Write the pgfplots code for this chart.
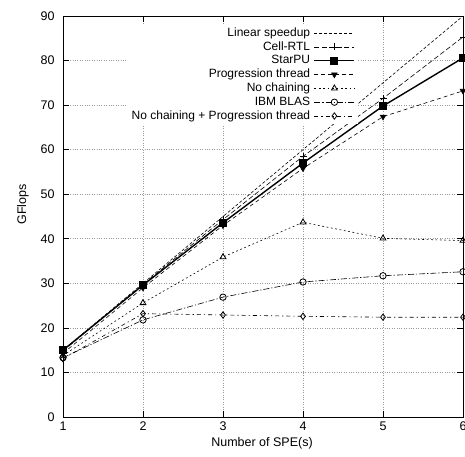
\documentclass[border=0pt]{standalone}
\usepackage{fontspec}
\setmainfont{Liberation Sans}
\usepackage{pgfplots}
\pgfplotsset{compat=1.18}

\begin{document}
\begin{tikzpicture}
\begin{axis}[
    at={(0pt,0pt)}, anchor=south west,
    scale only axis,
    width=400pt, height=401pt,
    xmin=1, xmax=6, ymin=0, ymax=90,
    xtick={1,2,3,4,5,6},
    ytick={0,10,...,90},
    tick align=inside,
    major tick length=6pt,
    axis line style={line width=0.9pt},
    tick style={line width=0.7pt, black},
    grid=major,
    major grid style={gray!80, line width=0.6pt, dash pattern=on 0.8pt off 1.6pt},
    /pgf/number format/assume math mode=true,
    tick label style={font=\fontsize{12.5}{14}\selectfont},
    yticklabel style={xshift=-5pt},
    xticklabel style={yshift=-1pt},
    xlabel={Number of SPE(s)},
    ylabel={GFlops},
    label style={font=\fontsize{12.5}{14}\selectfont},
    xlabel style={at={(axis description cs:0.4975,-0.066)}, anchor=center},
    ylabel style={at={(axis description cs:-0.1,0.53)}, anchor=center},
    clip=false,
    legend cell align=right,
    legend plot pos=right,
    legend style={at={(0.738,0.978)}, anchor=north east, draw=none, fill=white,
        font=\fontsize{12}{12}\selectfont, row sep=1.5pt, column sep=3pt,
        nodes={inner sep=0.6pt, text height=8.6pt, text depth=2.5pt}},
    legend image code/.code={\draw[mark repeat=2, mark phase=2] plot coordinates {(0cm,0cm)(0.7cm,0cm)(1.4cm,0cm)};},
]
\addplot[black, line width=0.6pt, dash pattern=on 3pt off 2pt] coordinates {
    (1,15)(2,30)(3,45)(4,60)(5,75)(6,90)};
\addlegendentry{Linear speedup}
\addplot[black, line width=0.6pt, dash pattern=on 5pt off 2.5pt, mark=+, mark size=3.5pt, mark options={solid, line width=0.7pt}] coordinates {
    (1,14.8)(2,29.8)(3,44.3)(4,58.5)(5,71.5)(6,85.3)};
\addlegendentry{Cell-RTL}
\addplot[black, line width=1.4pt, mark=square*, mark size=3.4pt, mark options={solid}] coordinates {
    (1,15)(2,29.6)(3,43.6)(4,57)(5,69.8)(6,80.6)};
\addlegendentry{StarPU}
\addplot[black, line width=0.6pt, dash pattern=on 4pt off 3pt, mark=triangle*, mark size=3.2pt, mark options={solid, rotate=180}] coordinates {
    (1,14.3)(2,29)(3,43)(4,55.8)(5,67.4)(6,73.2)};
\addlegendentry{Progression thread}
\addplot[black, line width=0.6pt, dash pattern=on 1.8pt off 2.6pt, mark=triangle, mark size=3.4pt, mark options={solid, line width=0.8pt}] coordinates {
    (1,13.8)(2,25.6)(3,35.9)(4,43.7)(5,40.1)(6,39.6)};
\addlegendentry{No chaining}
\addplot[black, line width=0.6pt, dash pattern=on 6pt off 2pt on 1.2pt off 2pt, mark=o, mark size=3.2pt, mark options={solid, line width=0.8pt}] coordinates {
    (1,13.3)(2,21.8)(3,26.9)(4,30.3)(5,31.7)(6,32.6)};
\addlegendentry{IBM BLAS}
\addplot[black, line width=0.6pt, dash pattern=on 4pt off 3pt on 1.2pt off 3pt, mark=diamond, mark size=3.2pt, mark options={solid, line width=0.8pt}] coordinates {
    (1,13.1)(2,23.2)(3,22.9)(4,22.6)(5,22.4)(6,22.4)};
\addlegendentry{No chaining + Progression thread}
\end{axis}
\pgfresetboundingbox
\path[use as bounding box] (-63pt,-39pt) rectangle (402pt,417pt);
\end{tikzpicture}
\end{document}
